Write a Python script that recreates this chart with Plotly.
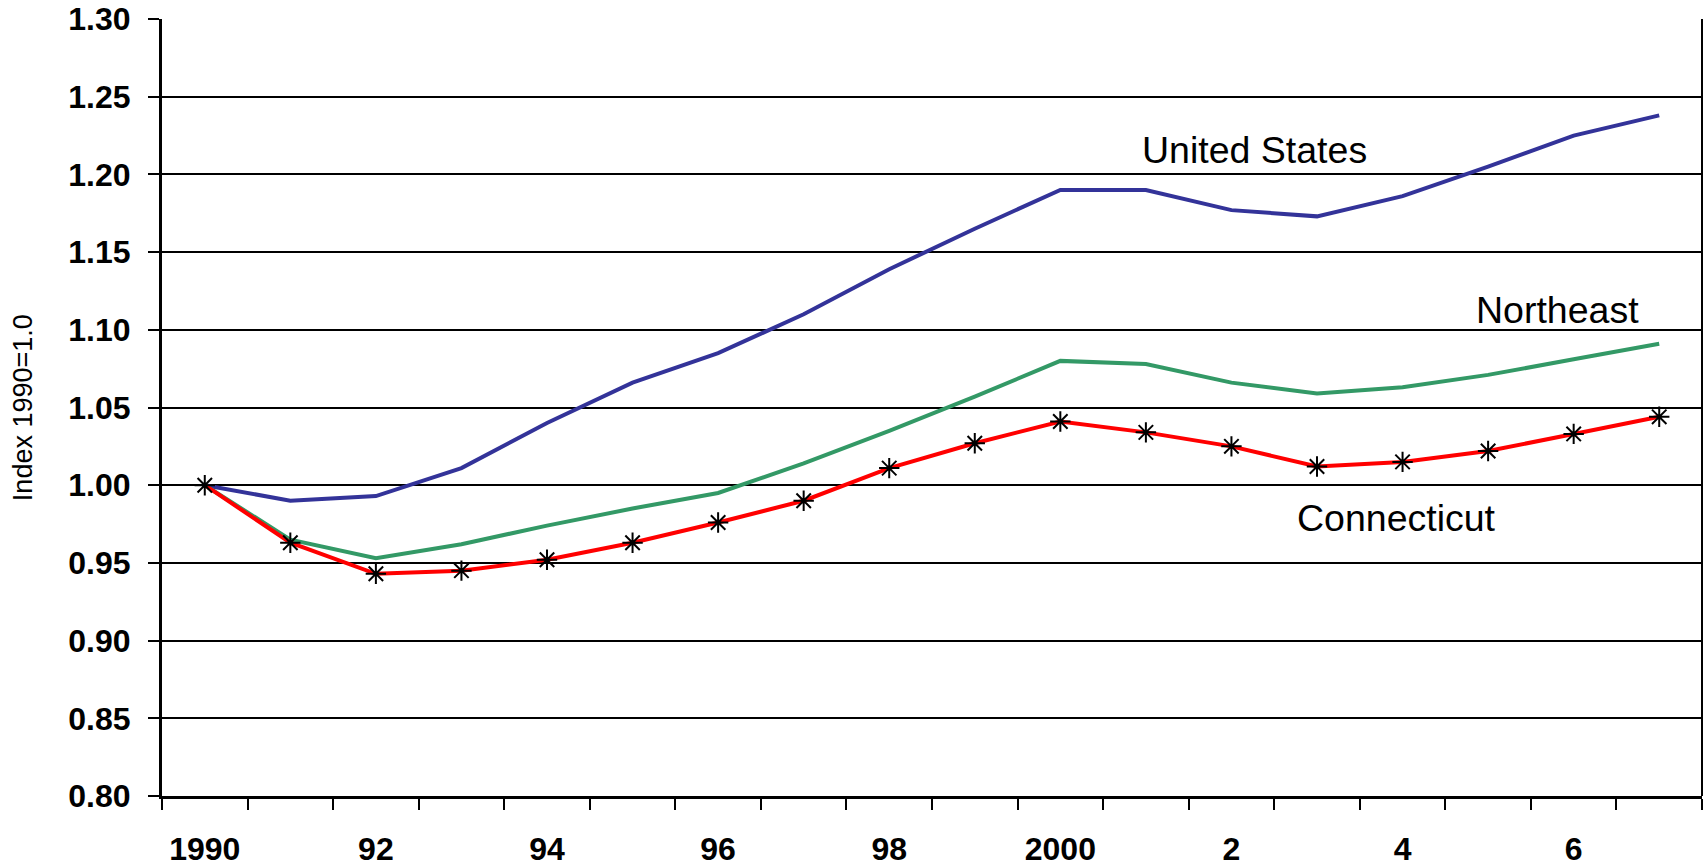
import plotly.graph_objects as go

years = list(range(1990, 2008))
tick_years = years[::2]
tick_labels = ["1990", "92", "94", "96", "98", "2000", "2", "4", "6"]

united_states = [1.000, 0.990, 0.993, 1.011, 1.040, 1.066, 1.085, 1.110, 1.139,
                 1.165, 1.190, 1.190, 1.177, 1.173, 1.186, 1.205, 1.225, 1.238]
northeast = [1.000, 0.965, 0.953, 0.962, 0.974, 0.985, 0.995, 1.014, 1.035,
             1.057, 1.080, 1.078, 1.066, 1.059, 1.063, 1.071, 1.081, 1.091]
connecticut = [1.000, 0.963, 0.943, 0.945, 0.952, 0.963, 0.976, 0.990, 1.011,
               1.027, 1.041, 1.034, 1.025, 1.012, 1.015, 1.022, 1.033, 1.044]

y_ticks = [0.80, 0.85, 0.90, 0.95, 1.00, 1.05, 1.10, 1.15, 1.20, 1.25, 1.30]

fig = go.Figure()
fig.add_trace(go.Scatter(x=years, y=united_states, mode="lines", name="United States",
                         line=dict(color="#333399", width=4)))
fig.add_trace(go.Scatter(x=years, y=northeast, mode="lines", name="Northeast",
                         line=dict(color="#339966", width=4)))
fig.add_trace(go.Scatter(x=years, y=connecticut, mode="lines+markers", name="Connecticut",
                         line=dict(color="#FF0000", width=4),
                         marker=dict(symbol="asterisk-open", size=17, color="black",
                                     line=dict(color="black", width=2))))

font_family = "Liberation Sans, Arial, sans-serif"
boundaries = [y - 0.5 for y in years] + [years[-1] + 0.5]

fig.update_layout(
    width=1706, height=866,
    margin=dict(l=162, r=4, t=19, b=70),
    paper_bgcolor="white", plot_bgcolor="white",
    showlegend=False,
    font=dict(family=font_family, color="black"),
    xaxis=dict(
        range=[1989.5, 2007.5], automargin=False,
        tickmode="array", tickvals=tick_years, ticktext=tick_labels,
        ticks="", showgrid=False, zeroline=False,
        showline=True, linecolor="black", linewidth=3,
        tickfont=dict(size=32, family=font_family, color="black", weight="bold"),
        ticklabelstandoff=23, ticklabeloverflow="allow",
        minor=dict(tickmode="array", tickvals=boundaries, ticks="outside",
                   ticklen=11, tickwidth=2, tickcolor="black", showgrid=False),
    ),
    yaxis=dict(
        range=[0.80, 1.30], automargin=False,
        tickmode="array", tickvals=y_ticks, ticktext=[f"{v:.2f}" for v in y_ticks],
        ticks="outside", ticklen=11, tickwidth=2, tickcolor="black",
        showgrid=True, gridcolor="black", gridwidth=2,
        zeroline=False,
        showline=True, linecolor="black", linewidth=3,
        tickfont=dict(size=32, family=font_family, color="black", weight="bold"),
        ticklabelstandoff=11, ticklabeloverflow="allow",
    ),
)

# right border of the plot area
fig.add_shape(type="line", xref="paper", yref="paper", x0=1, x1=1, y0=0, y1=1,
              line=dict(color="black", width=2))

# y-axis title
fig.add_annotation(xref="paper", yref="paper", x=-0.0905, y=0.5, text="Index 1990=1.0",
                   textangle=-90, showarrow=False, xanchor="center", yanchor="middle",
                   font=dict(size=27, family=font_family, color="black"))

annots = [
    ("United States", 2002.27, 1.216),
    ("Northeast", 2005.81, 1.113),
    ("Connecticut", 2003.93, 0.979),
]
for text, x, y in annots:
    fig.add_annotation(x=x, y=y, text=text, showarrow=False,
                       font=dict(size=37.5, family=font_family, color="black"))

fig.write_html(
    "out.html",
    config={"displayModeBar": False},
    post_script=("document.documentElement.style.margin='0';"
                 "document.body.style.margin='0';"
                 "document.documentElement.style.overflow='hidden';"
                 "document.body.style.overflow='hidden';"),
)
